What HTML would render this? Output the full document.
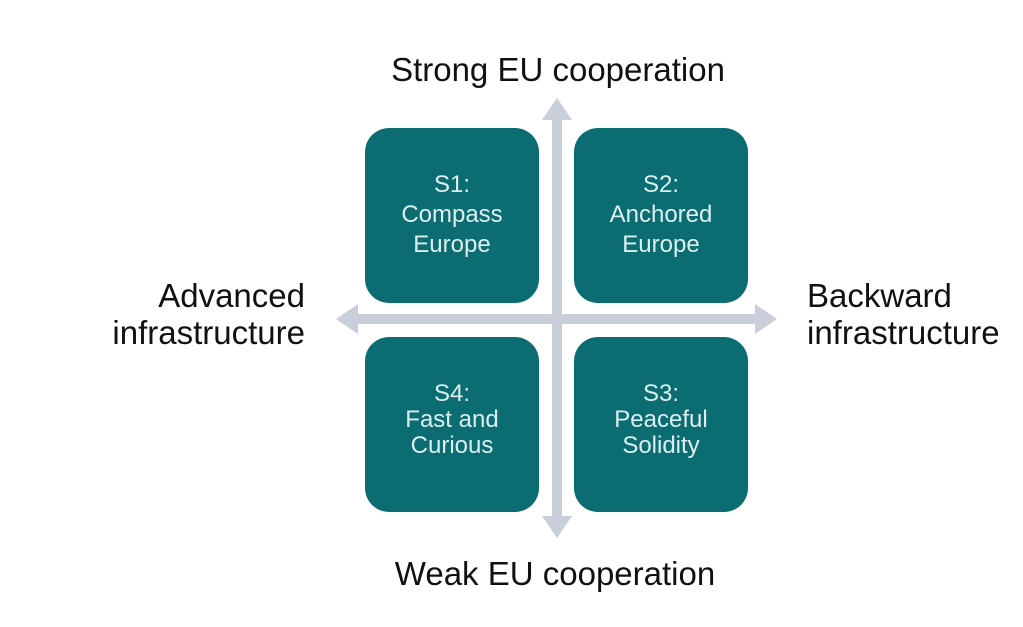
<!DOCTYPE html>
<html><head><style>
body{margin:0;width:1023px;height:627px;background:#fff;position:relative;overflow:hidden;font-family:"Liberation Sans",sans-serif}
.b{position:absolute;width:174px;height:175px;background:#0b6c72;border-radius:24px;color:#dcefef;font-size:24px;text-align:center;box-sizing:border-box}
.l{position:absolute;font-size:33px;color:#111;line-height:37px;white-space:nowrap}
</style></head><body>
<svg width="1023" height="627" style="position:absolute;left:0;top:0">
<g fill="#c9cfda">
<rect x="552" y="118" width="10" height="400"/>
<polygon points="557,98 542,120 572,120"/>
<polygon points="557,538 542,516 572,516"/>
<rect x="355" y="314" width="404" height="10"/>
<polygon points="336,319 358,304 358,334"/>
<polygon points="777,319 755,304 755,334"/>
</g></svg>
<div class="b" style="left:365px;top:128px;padding-top:42px;line-height:30px">S1:<br>Compass<br>Europe</div>
<div class="b" style="left:574px;top:128px;padding-top:42px;line-height:30px">S2:<br>Anchored<br>Europe</div>
<div class="b" style="left:365px;top:337px;padding-top:44px;line-height:26px">S4:<br>Fast and<br>Curious</div>
<div class="b" style="left:574px;top:337px;padding-top:44px;line-height:26px">S3:<br>Peaceful<br>Solidity</div>
<div class="l" style="left:358px;width:400px;text-align:center;top:51px">Strong EU cooperation</div>
<div class="l" style="left:355px;width:400px;text-align:center;top:555px">Weak EU cooperation</div>
<div class="l" style="right:718px;text-align:right;top:277px">Advanced<br>infrastructure</div>
<div class="l" style="left:807px;top:277px">Backward<br>infrastructure</div>
</body></html>
